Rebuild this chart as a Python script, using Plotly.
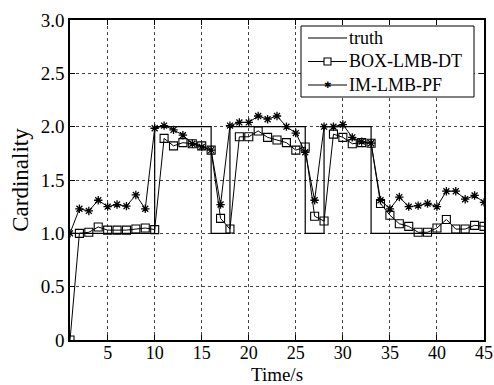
import plotly.graph_objects as go

# ---------------- data ----------------
t = list(range(1, 46))
truth = [1]*9 + [2]*6 + [1]*2 + [2]*8 + [1]*2 + [2]*5 + [1]*13
box_lmb_dt = [0.0, 1.0, 1.01, 1.06, 1.03, 1.03, 1.03, 1.04, 1.05, 1.035,
              1.89, 1.82, 1.85, 1.84, 1.82, 1.78, 1.14, 1.04, 1.905, 1.905,
              1.96, 1.90, 1.875, 1.85, 1.78, 1.81, 1.16, 1.115, 1.93, 1.90,
              1.84, 1.85, 1.845, 1.28, 1.17, 1.09, 1.065, 1.01, 1.01, 1.05,
              1.13, 1.04, 1.04, 1.075, 1.065]
im_lmb_pf = [1.0, 1.23, 1.21, 1.31, 1.25, 1.27, 1.255, 1.36, 1.23, 1.985,
             2.01, 1.97, 1.92, 1.84, 1.81, 1.78, 1.27, 2.01, 2.04, 2.04,
             2.10, 2.07, 2.10, 2.0, 1.94, 1.76, 1.31, 2.0, 2.0, 2.02,
             1.90, 1.86, 1.845, 1.31, 1.23, 1.34, 1.25, 1.26, 1.28, 1.25,
             1.395, 1.395, 1.32, 1.355, 1.29]
series_names = ["truth", "BOX-LMB-DT", "IM-LMB-PF"]

x_ticks = [5, 10, 15, 20, 25, 30, 35, 40, 45]
y_ticks = [0, 0.5, 1.0, 1.5, 2.0, 2.5, 3.0]
y_tick_labels = ["0", "0.5", "1.0", "1.5", "2.0", "2.5", "3.0"]

# ---------------- style / layout ----------------
font = "Liberation Serif"
W, H = 494, 385
ML, MR, MT, MB = 70, 10, 20, 45
PW, PH = W - ML - MR, H - MT - MB


def px_x(px):
    return (px - ML) / PW


def px_y(py):
    return (H - MB - py) / PH


fig = go.Figure()
fig.add_trace(go.Scatter(x=t, y=truth, mode="lines", name=series_names[0],
                         line=dict(color="black", width=1.2, shape="hv")))
fig.add_trace(go.Scatter(x=t, y=box_lmb_dt, mode="lines+markers", name=series_names[1],
                         line=dict(color="black", width=1.0),
                         marker=dict(symbol="square-open", size=8, color="black",
                                     line=dict(width=1.1))))
fig.add_trace(go.Scatter(x=t, y=im_lmb_pf, mode="lines+markers", name=series_names[2],
                         line=dict(color="black", width=1.0),
                         marker=dict(symbol="asterisk-open", size=7, color="black",
                                     line=dict(width=1.3, color="black"))))

common = dict(showline=True, linecolor="black", linewidth=1.5, mirror="ticks",
              ticks="inside", ticklen=5, tickcolor="black",
              showgrid=True, gridcolor="#444", griddash="dot", gridwidth=1,
              zeroline=False, automargin=False)

fig.update_xaxes(range=[1, 45], tickvals=x_ticks,
                 tickfont=dict(family=font, size=18, color="black"),
                 ticklabelstandoff=-4,
                 title_text="Time/s",
                 title_font=dict(family=font, size=19, color="black"),
                 title_standoff=13, **common)
fig.update_yaxes(range=[0, 3], tickvals=y_ticks, ticktext=y_tick_labels,
                 tickfont=dict(family=font, size=19, color="black"),
                 title_text="Cardinality",
                 title_font=dict(family=font, size=23, color="black"),
                 title_standoff=6, **common)

# ---------------- compact legend (box, samples, labels) ----------------
fs_leg = 18
box_l, box_r, box_t, box_b = 301, 474, 26, 97
rows = [38, 61.5, 85]
line_l, line_r = 308, 347
shapes = [dict(type="rect", xref="paper", yref="paper",
               x0=px_x(box_l), x1=px_x(box_r), y0=px_y(box_b), y1=px_y(box_t),
               line=dict(color="black", width=1), fillcolor="white", layer="above")]
annotations = []
for name, ry in zip(series_names, rows):
    shapes.append(dict(type="line", xref="paper", yref="paper",
                       x0=px_x(line_l), x1=px_x(line_r), y0=px_y(ry), y1=px_y(ry),
                       line=dict(color="black", width=1.2), layer="above"))
    annotations.append(dict(xref="paper", yref="paper", x=px_x(line_r + 1), y=px_y(ry),
                            xanchor="left", yanchor="middle", text=name, showarrow=False,
                            font=dict(family=font, size=fs_leg, color="black"), borderpad=0))
mid = (line_l + line_r) / 2
shapes.append(dict(type="rect", xref="paper", yref="paper",
                   x0=px_x(mid - 3.5), x1=px_x(mid + 3.5),
                   y0=px_y(rows[1] + 3.5), y1=px_y(rows[1] - 3.5),
                   line=dict(color="black", width=1.1), fillcolor="white", layer="above"))
annotations.append(dict(xref="paper", yref="paper", x=px_x(mid), y=px_y(rows[2]),
                        xanchor="center", yanchor="middle", text="✱", showarrow=False,
                        font=dict(family="DejaVu Sans", size=9, color="black"), borderpad=0))

fig.update_layout(
    width=W, height=H,
    font=dict(family=font, color="black"),
    margin=dict(l=ML, r=MR, t=MT, b=MB),
    paper_bgcolor="white", plot_bgcolor="white",
    showlegend=False,
    shapes=shapes,
    annotations=annotations,
)

fig.write_html("out.html")
